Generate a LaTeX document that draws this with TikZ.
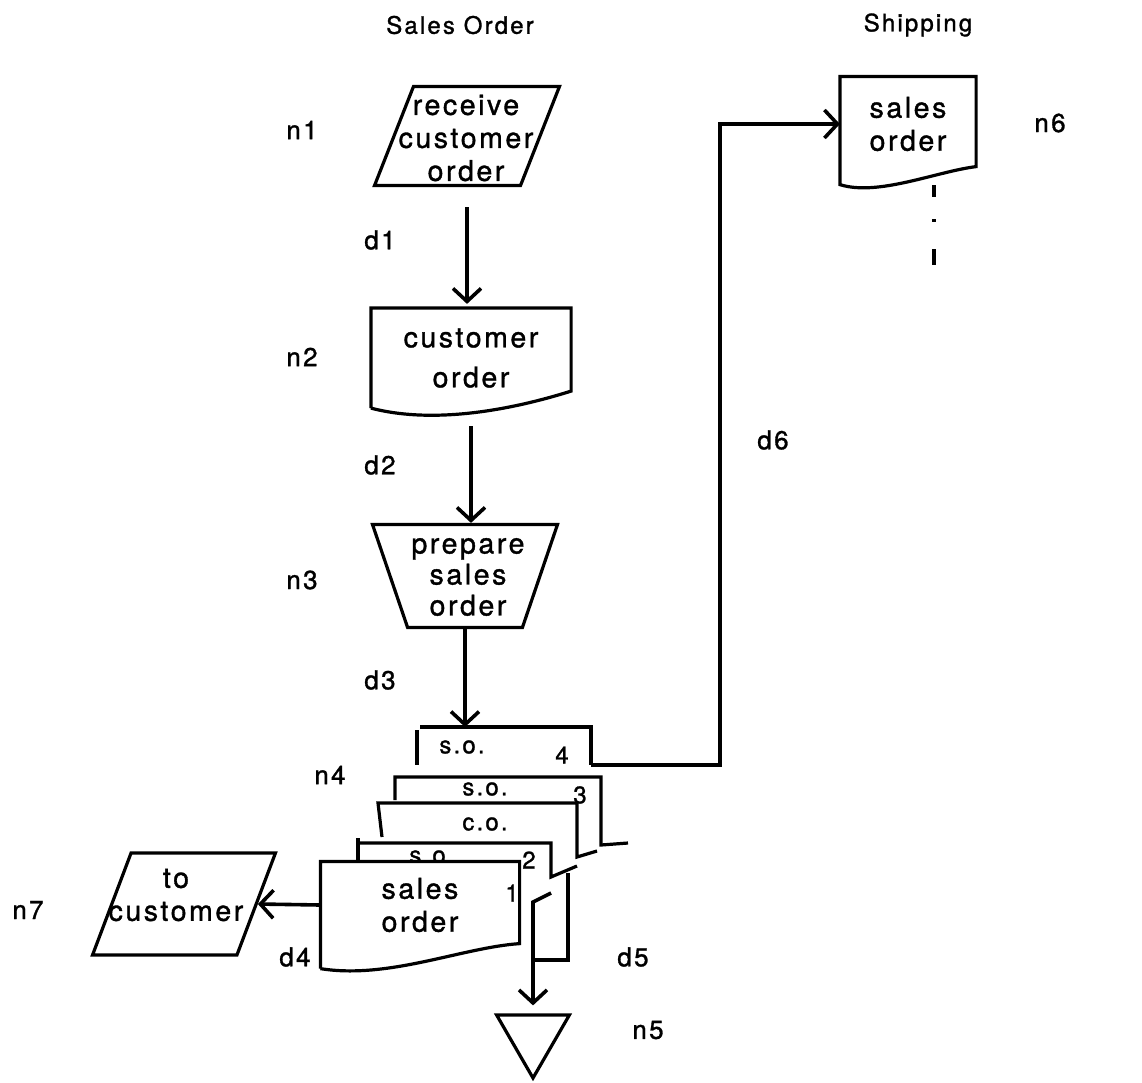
\documentclass[tikz,border=0pt]{standalone}
\usepackage{fontspec}
\setmainfont{TeX Gyre Heros}[LetterSpace=9, FakeBold=1.2]
\usetikzlibrary{shapes.geometric, arrows.meta, positioning, calc}

\begin{document}
\begin{tikzpicture}[
    x=1pt, y=1pt, line width=3.2pt,
    txt/.style={font=\fontsize{28.5}{33}\selectfont, align=center, inner sep=0pt},
    small/.style={font=\fontsize{24}{28}\selectfont, inner sep=0pt},
    lbl/.style={font=\fontsize{26}{30}\selectfont, inner sep=0pt},
    para/.style={draw, trapezium, trapezium left angle=70, trapezium right angle=110, trapezium stretches=true, inner sep=2pt},
    manual/.style={draw, trapezium, shape border rotate=180, trapezium left angle=73, trapezium right angle=73, trapezium stretches=true, inner sep=2pt},
    doc/.style={txt, minimum width=197pt},
    arr/.style={-{Straight Barb[length=13pt,width=28pt]}, line width=3.6pt}
]
\useasboundingbox (0,0) rectangle (1142,-1082);

% lanes
\node[lbl, font=\fontsize{24}{28}\selectfont] (lane1) at (460,-25) {Sales Order};
\node[lbl, font=\fontsize{24}{28}\selectfont] (lane2) at (918,-25) {Shipping};

% sales order column
\node[para, minimum width=185pt, minimum height=99pt] (n1) at (467,-136) {};
\node[txt] (n1t) at (466,-138) {receive\\customer\\order};

\node[doc, minimum height=97pt] (n2) at (471,-358) {customer\\[7pt]order};
\draw (n2.south west) -- (n2.north west) -- (n2.north east) -- ([yshift=17pt]n2.south east)
    .. controls ([xshift=-70pt,yshift=-5pt]n2.south east) and ([xshift=57pt,yshift=-15pt]n2.south west) .. (n2.south west);

\node[manual, minimum width=185pt, minimum height=103pt] (n3) at (465,-576) {};
\node[txt, font=\fontsize{28.5}{31}\selectfont] (n3t) at (468,-577) {prepare\\sales\\order};

% stack of copies (n4)
\coordinate (so4) at (462,-727);
\coordinate (so4r) at (591,-765);
\draw (417,-730) -- (417,-765);
\draw (420,-727) -- (591,-727) -- (so4r);
\node[small] (so4t) at (462,-747) {s.o.};
\node[small] (so4n) at (562,-755) {4};

\draw (395,-800) -- (395,-777) -- (601,-777) -- (601,-845) -- (628,-843);
\node[small] (so3t) at (485,-789) {s.o.};
\node[small] (so3n) at (580,-795) {3};

\draw (382,-837) -- (378,-803) -- (577,-803) -- (577,-857) -- (597,-851);
\node[small] (cot) at (485,-824) {c.o.};

\draw (358,-863) -- (358,-838);
\draw (358,-843) -- (551,-843) -- (551,-877) -- (577,-866);
\node[small] (so2t) at (432,-857) {s.o.};
\node[small] (so2n) at (529,-860) {2};

\node[doc, minimum width=196pt, minimum height=84pt] (n4) at (420,-905) {};
\filldraw[fill=white] (n4.south west) -- ([yshift=-20pt]n4.south west) -- (n4.north west) -- (n4.north east) -- ([yshift=5pt]n4.south east)
    .. controls ([xshift=-58pt,yshift=1pt]n4.south east) and ([xshift=68pt,yshift=-31pt]n4.south west) .. ([yshift=-20pt]n4.south west);
\node[txt] (n4t) at (n4) {sales\\order};
\node[small] (so1n) at (512,-893) {1};

% file and customer
\node[draw, regular polygon, regular polygon sides=3, shape border rotate=180, minimum size=84pt, inner sep=0pt] (n5) at (533,-1036) {};

\node[para, minimum width=183pt, minimum height=102pt] (n7) at (184,-904) {};
\node[txt] (n7t) at (176,-895) {to\\customer};

% shipping
\node[doc, minimum width=133pt, minimum height=92pt] (n6) at (908,-124) {sales\\order};
\draw (n6.south west) -- (n6.north west) -- (n6.north east) -- ([yshift=5pt]n6.south east)
    .. controls ([xshift=-40pt,yshift=0pt]n6.south east) and ([xshift=38pt,yshift=-25pt]n6.south west) .. ([yshift=-13pt]n6.south west) -- cycle;
\draw[dash pattern=on 12pt off 22pt on 3pt off 27pt on 16pt] (934,-185) -- (934,-270);

% flows
\draw[arr] ([yshift=-20pt]n1.south) -- ([yshift=4pt]n1.south |- n2.north);
\draw[arr] ([yshift=-18pt]n2.south) -- (n2.south |- n3.north);
\draw[arr] (n3.south) -- (n3.south |- so4);
\draw[arr] (n4.west) -- (n7.east);
\draw (568,-873) -- (568,-960) -- (533,-960);
\draw[arr] (551,-893) -- (533,-902) -- ([yshift=8pt]n5.north);
\coordinate (d6c) at (720,-765);
\draw[arr] (so4r) -- (d6c) |- (n6.west);

% labels
\node[lbl] (ln1) at (302,-130) {n1};
\node[lbl] (ln2) at (302,-357) {n2};
\node[lbl] (ln3) at (302,-580) {n3};
\node[lbl] (ln4) at (330,-775) {n4};
\node[lbl] (ln5) at (648,-1030) {n5};
\node[lbl] (ln6) at (1050,-123) {n6};
\node[lbl] (ln7) at (28,-910) {n7};
\node[lbl] (ld1) at (380,-240) {d1};
\node[lbl] (ld2) at (380,-465) {d2};
\node[lbl] (ld3) at (380,-680) {d3};
\node[lbl] (ld4) at (295,-957) {d4};
\node[lbl] (ld5) at (633,-957) {d5};
\node[lbl] (ld6) at (773,-440) {d6};
\end{tikzpicture}
\end{document}
